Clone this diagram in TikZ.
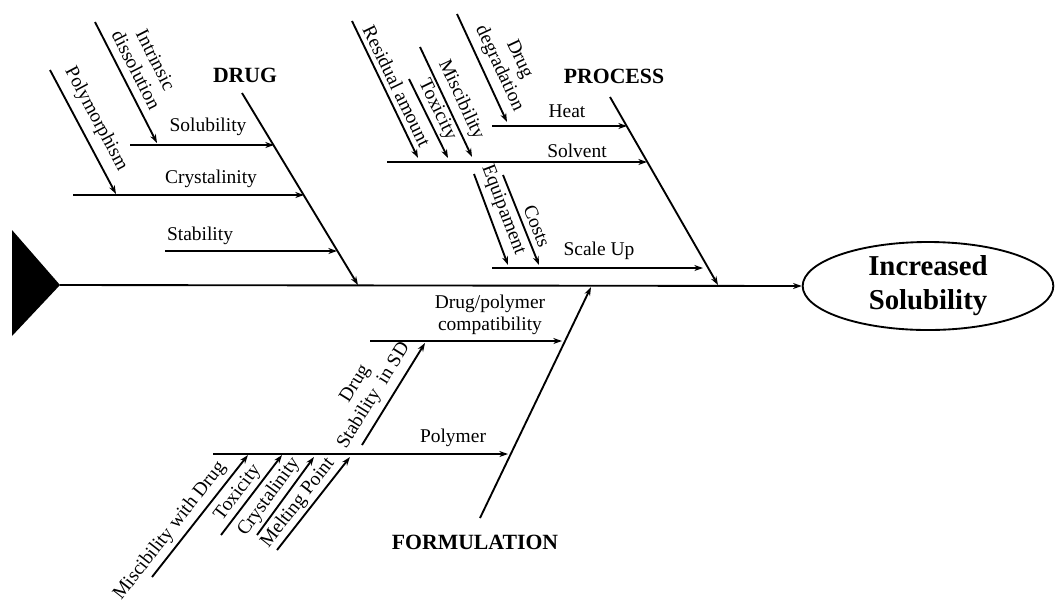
\documentclass[tikz,border=0pt]{standalone}
\usepackage{fontspec}
\setmainfont{Liberation Serif}
\usetikzlibrary{arrows.meta,shapes.geometric}
\begin{document}
\begin{tikzpicture}[x=0.75pt,y=-0.75pt,
  conn/.style={line width=1.4pt,-{Stealth[length=6.5pt,width=4.5pt]}},
  lab/.style={font=\fontsize{14.6}{16.5}\selectfont, inner sep=0pt, align=center},
  head/.style={font=\bfseries\fontsize{16.3}{19}\selectfont, inner sep=0pt},
  goalstyle/.style={draw, ellipse, line width=1.4pt, inner sep=0pt,
    minimum width=188pt, minimum height=66pt, align=center,
    font=\bfseries\fontsize{21.6}{25.5}\selectfont}
]
\useasboundingbox (0,0) rectangle (1055,601);

% spine
\coordinate (tip) at (60,285);
\fill (12,230) -- (tip) -- (12,336) -- cycle;
\node[goalstyle] (goal) at (928,286) {Increased\\Solubility};
\draw[conn] (tip) -- (goal.west);

% ---------------- DRUG
\coordinate (d0) at (242,93); \coordinate (d1) at (358,285);
\draw[conn] (d0) -- (d1);
\node[head] (drug) at (245,75) {DRUG};

\coordinate (ds0) at (130,145); \coordinate (ds1) at (274,145);
\draw[conn] (ds0) -- (ds1);
\node[lab] (dsl) at (208,127) {Solubility};

\coordinate (di0) at (95,22); \coordinate (di1) at (157,143);
\draw[conn] (di0) -- (di1);
\node[lab, rotate=-63] (dil) at (146,65) {Intrinsic\\dissolution};

\coordinate (dc0) at (73,195); \coordinate (dc1) at (304,195);
\draw[conn] (dc0) -- (dc1);
\node[lab] (dcl) at (211,179) {Crystalinity};

\coordinate (dp0) at (50,70); \coordinate (dp1) at (116,194);
\draw[conn] (dp0) -- (dp1);
\node[lab, rotate=-62] (dpl) at (96,119) {Polymorphism};

\coordinate (dt0) at (165,251); \coordinate (dt1) at (337,251);
\draw[conn] (dt0) -- (dt1);
\node[lab] (dtl) at (200,236) {Stability};

% ---------------- PROCESS
\coordinate (p0) at (610,97); \coordinate (p1) at (718,285);
\draw[conn] (p0) -- (p1);
\node[head] (process) at (614,76) {PROCESS};

\coordinate (ph0) at (492,126); \coordinate (ph1) at (627,126);
\draw[conn] (ph0) -- (ph1);
\node[lab] (phl) at (567,111) {Heat};

\coordinate (pd0) at (457,14); \coordinate (pd1) at (507,122);
\draw[conn] (pd0) -- (pd1);
\node[lab, rotate=-65] (pdl) at (509,64) {Drug\\degradation};

\coordinate (pv0) at (387,162); \coordinate (pv1) at (647,162);
\draw[conn] (pv0) -- (pv1);
\node[lab] (pvl) at (577,151) {Solvent};

\coordinate (pr0) at (352,21); \coordinate (pr1) at (418,158);
\draw[conn] (pr0) -- (pr1);
\node[lab, rotate=-64] (prl) at (397,86) {Residual amount};

\coordinate (pt0) at (409,79); \coordinate (pt1) at (448,158);
\draw[conn] (pt0) -- (pt1);
\node[lab, rotate=-64] (ptl) at (437,110) {Toxicity};

\coordinate (pm0) at (420,47); \coordinate (pm1) at (472,157);
\draw[conn] (pm0) -- (pm1);
\node[lab, rotate=-65] (pml) at (461,100) {Miscibility};

\coordinate (pu0) at (492,268); \coordinate (pu1) at (703,268);
\draw[conn] (pu0) -- (pu1);
\node[lab] (pul) at (599,251) {Scale Up};

\coordinate (pe0) at (474,174); \coordinate (pe1) at (508,265);
\draw[conn] (pe0) -- (pe1);
\node[lab, rotate=-69] (pel) at (503,210) {Equipament};

\coordinate (pc0) at (503,175); \coordinate (pc1) at (539,265);
\draw[conn] (pc0) -- (pc1);
\node[lab, rotate=-68] (pcl) at (537,226) {Costs};

% ---------------- FORMULATION
\coordinate (f0) at (480,518); \coordinate (f1) at (591,287);
\draw[conn] (f0) -- (f1);
\node[head] (formulation) at (475,542) {FORMULATION};

\coordinate (fc0) at (370,341); \coordinate (fc1) at (562,341);
\draw[conn] (fc0) -- (fc1);
\node[lab] (fcl) at (490,315) {Drug/polymer\\compatibility};

\coordinate (fp0) at (213,454); \coordinate (fp1) at (508,454);
\draw[conn] (fp0) -- (fp1);
\node[lab] (fpl) at (453,438) {Polymer};

\coordinate (fs0) at (362,445); \coordinate (fs1) at (425,343);
\draw[conn] (fs0) -- (fs1);
\node[lab, rotate=58] (fsl) at (365,390) {Drug\\Stability\ \ in SD};

\coordinate (fm0) at (152,577); \coordinate (fm1) at (248,455);
\draw[conn] (fm0) -- (fm1);
\node[lab, rotate=52] (fml) at (170,531) {Miscibility with Drug};

\coordinate (ft0) at (221,535); \coordinate (ft1) at (282,455);
\draw[conn] (ft0) -- (ft1);
\node[lab, rotate=53] (ftl) at (238,493) {Toxicity};

\coordinate (fy0) at (257,535); \coordinate (fy1) at (314,457);
\draw[conn] (fy0) -- (fy1);
\node[lab, rotate=54] (fyl) at (269,497) {Crystalinity};

\coordinate (fe0) at (277,550); \coordinate (fe1) at (350,457);
\draw[conn] (fe0) -- (fe1);
\node[lab, rotate=52] (fel) at (298,503) {Melting Point};
\end{tikzpicture}
\end{document}
